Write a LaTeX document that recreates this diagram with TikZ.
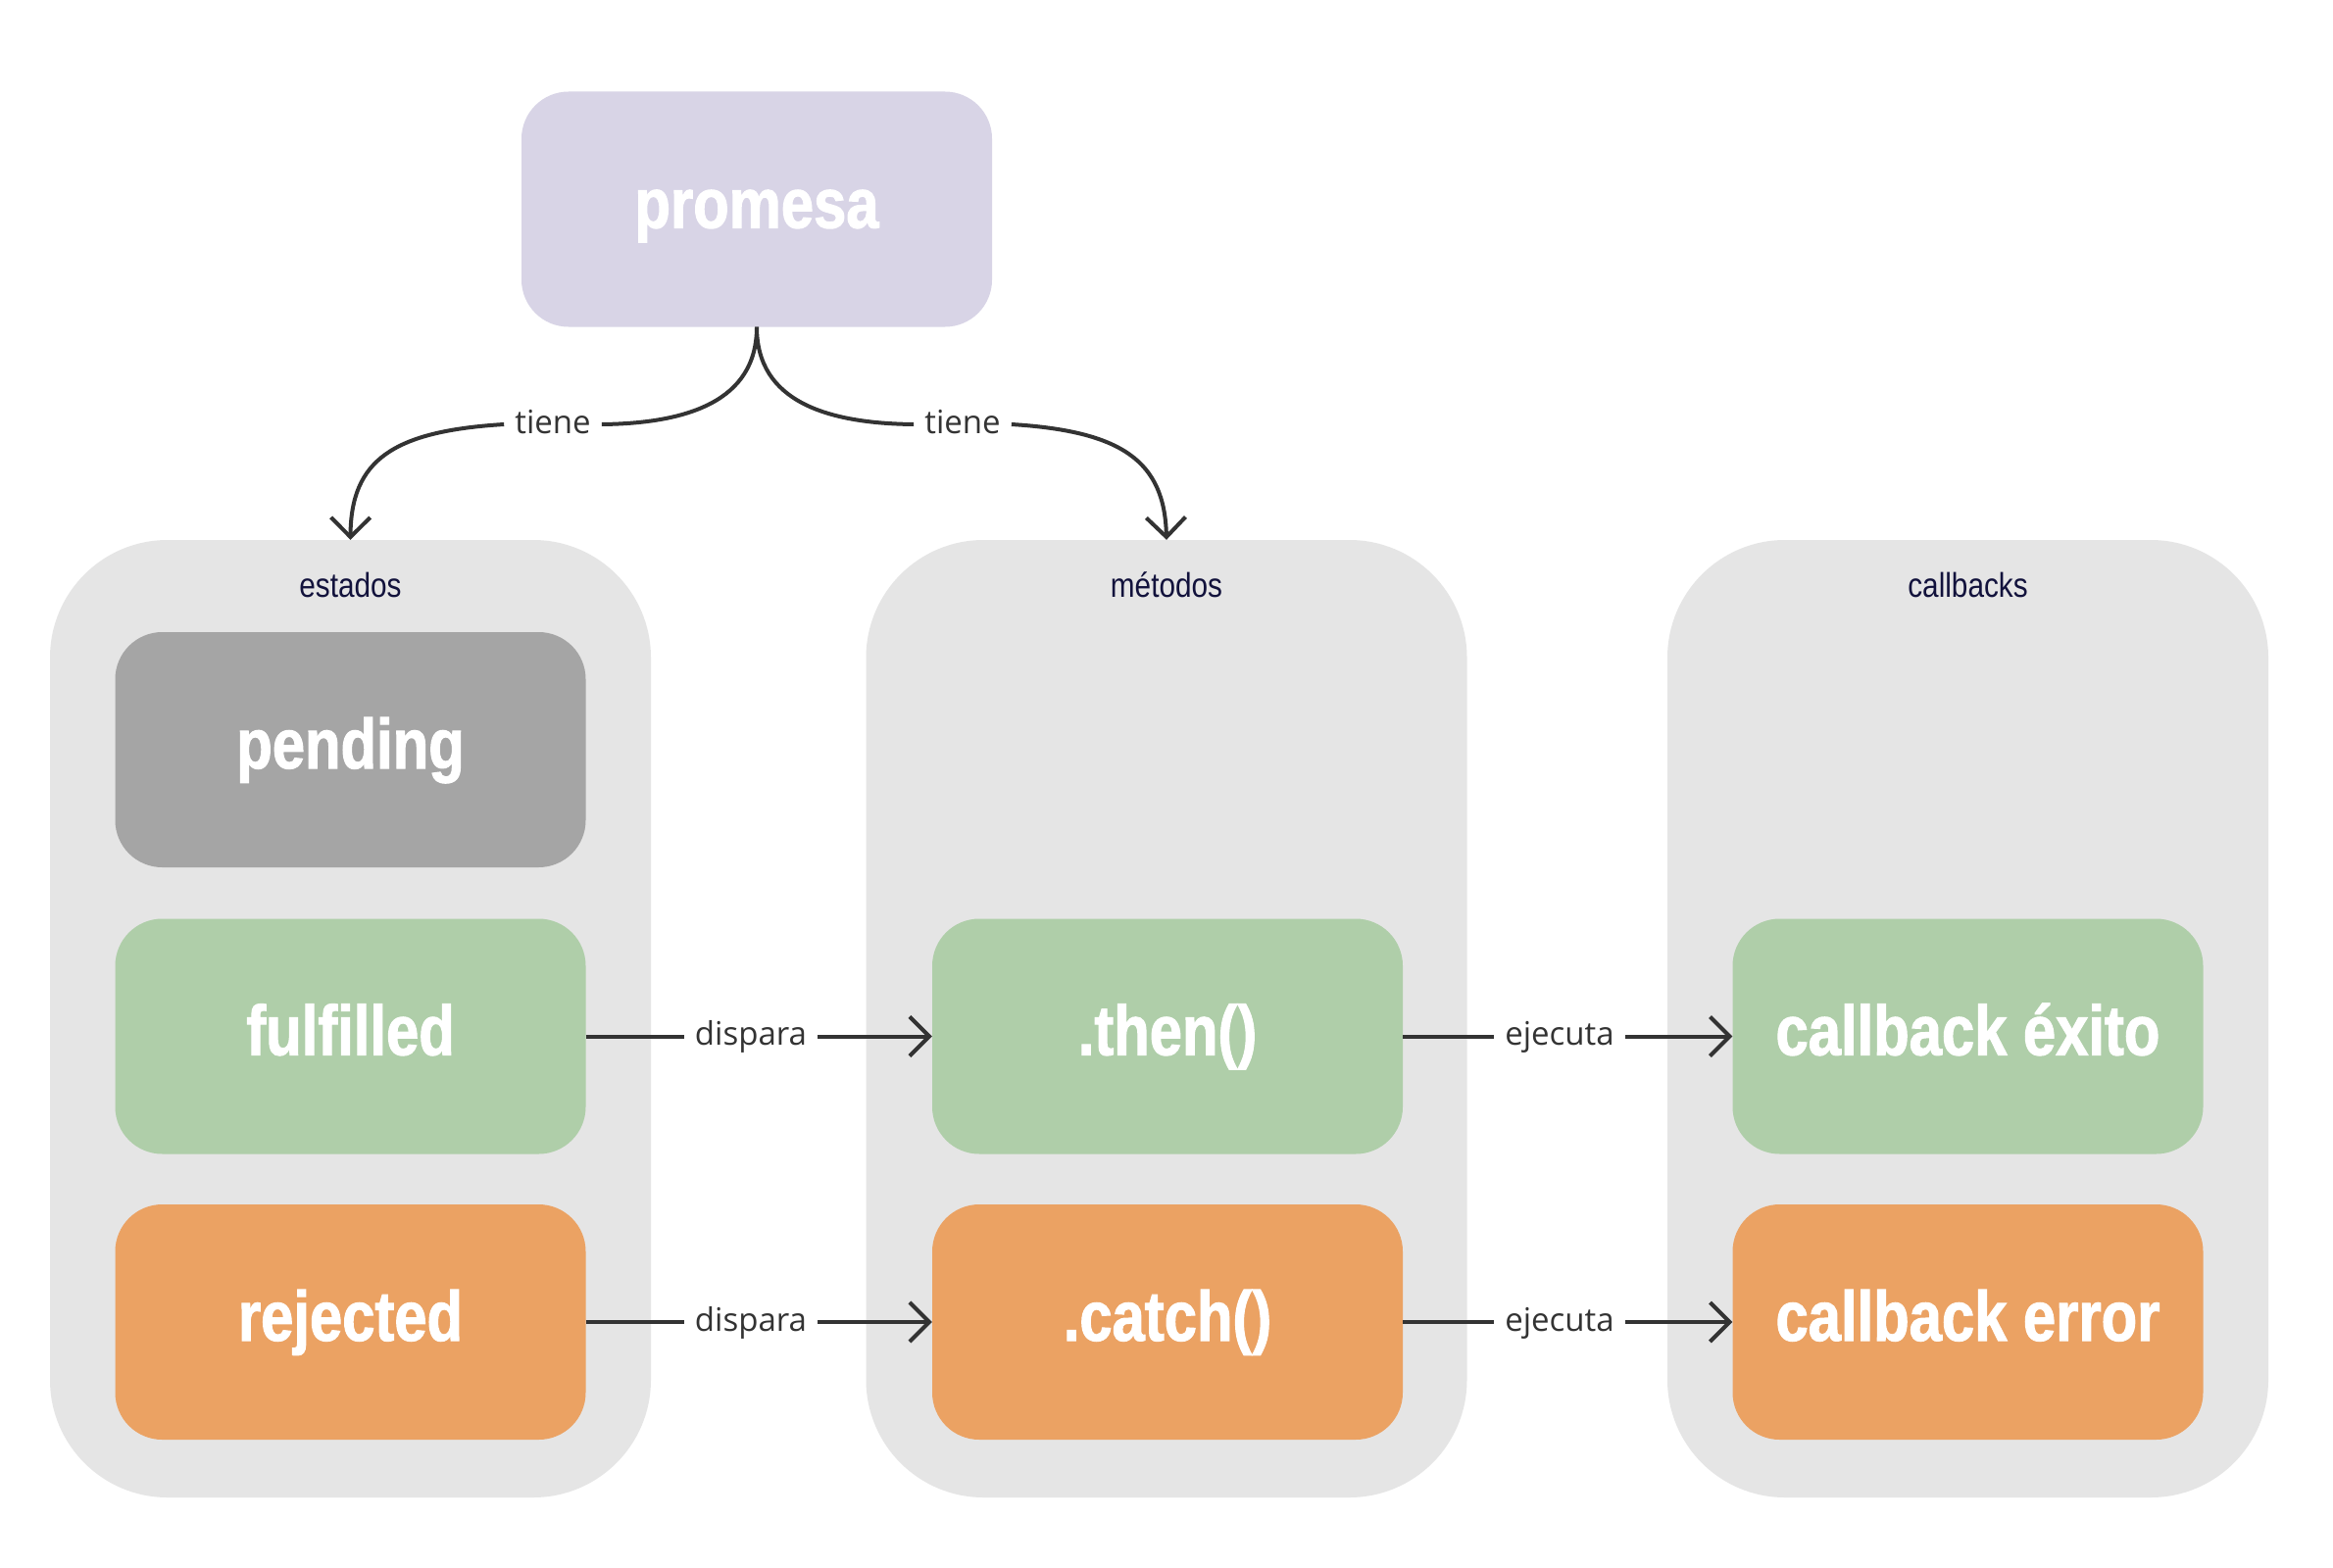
\documentclass[tikz,border=0pt]{standalone}
\usepackage{fontspec}
\setmainfont{Open Sans}
\newfontfamily\condfont{Liberation Sans}[FakeStretch=0.85]
\newfontfamily\boxfont{Liberation Sans}[UprightFont={* Bold}, FakeStretch=0.83, FakeBold=1.5]
\usetikzlibrary{arrows.meta}
\definecolor{lav}{HTML}{D8D4E6}
\definecolor{pend}{HTML}{A5A5A5}
\definecolor{grn}{HTML}{AFCEA9}
\definecolor{org}{HTML}{EBA263}
\definecolor{contgray}{HTML}{E5E5E5}
\definecolor{navy}{HTML}{12123C}
\definecolor{ink}{HTML}{333333}
\begin{document}
\begin{tikzpicture}[x=1pt,y=-1pt,
  box/.style={rounded corners=48pt, minimum width=480pt, minimum height=240pt,
    inner sep=0pt, text=white, font={\boxfont\fontsize{72}{80}\selectfont},
    text height=52pt, text depth=14pt},
  cont/.style={fill=contgray, rounded corners=120pt, minimum width=613pt,
    minimum height=977pt, inner sep=0pt},
  clbl/.style={anchor=base, text=navy, inner sep=0pt, font={\condfont\fontsize{35}{40}\selectfont}},
  lbl/.style={fill=white, text=ink, font={\fontsize{33}{40}\selectfont},
    inner xsep=11pt, inner ysep=0pt, text height=24pt, text depth=6pt},
  conn/.style={draw=ink, line width=4pt},
  arr/.style={conn, -{Straight Barb[length=20pt,width=40pt]}}]
\useasboundingbox (0,0) rectangle (2380,1600);
\fill[white] (0,0) rectangle (2380,1600);

% containers
\node[cont] (estados) at (357.5,1039.5) {};
\node[cont] (metodos) at (1190,1039.5) {};
\node[cont] (callbacks) at (2007.5,1039.5) {};
\node[clbl] (lestados) at (357.5,609) {estados};
\node[clbl] (lmetodos) at (1190,609) {métodos};
\node[clbl] (lcallbacks) at (2007.5,609) {callbacks};

% boxes
\node[box, fill=lav] (promesa) at (772,213.5) {promesa};
\node[box, fill=pend] (pending) at (357.5,765) {pending};
\node[box, fill=grn] (fulfilled) at (357.5,1057.5) {fulfilled};
\node[box, fill=org] (rejected) at (357.5,1349) {rejected};
\node[box, fill=grn] (then) at (1191,1057.5) {.then()};
\node[box, fill=org] (catch) at (1191,1349) {.catch()};
\node[box, fill=grn] (cbok) at (2007.5,1057.5) {callback éxito};
\node[box, fill=org] (cberr) at (2007.5,1349) {callback error};

% labels
\node[lbl] (t1) at (564,433) {tiene};
\node[lbl] (t2) at (982,433) {tiene};
\node[lbl] (d1) at (766,1057.5) {dispara};
\node[lbl] (d2) at (766,1349) {dispara};
\node[lbl] (e1) at (1591,1057.5) {ejecuta};
\node[lbl] (e2) at (1591,1349) {ejecuta};

% connectors
\draw[conn] (promesa.south) .. controls (772,410) and (700,432) .. (t1.east);
\draw[arr] (t1.west) .. controls (400,440) and (358,470) .. (estados.north);
\draw[conn] (promesa.south) .. controls (772,410) and (844,432) .. (t2.west);
\draw[arr] (t2.east) .. controls (1144,440) and (1188,470) .. (metodos.north);

\draw[conn] (fulfilled.east) -- (d1.west);
\draw[arr] (d1.east) -- (then.west);
\draw[conn] (rejected.east) -- (d2.west);
\draw[arr] (d2.east) -- (catch.west);
\draw[conn] (then.east) -- (e1.west);
\draw[arr] (e1.east) -- (cbok.west);
\draw[conn] (catch.east) -- (e2.west);
\draw[arr] (e2.east) -- (cberr.west);
\end{tikzpicture}
\end{document}
